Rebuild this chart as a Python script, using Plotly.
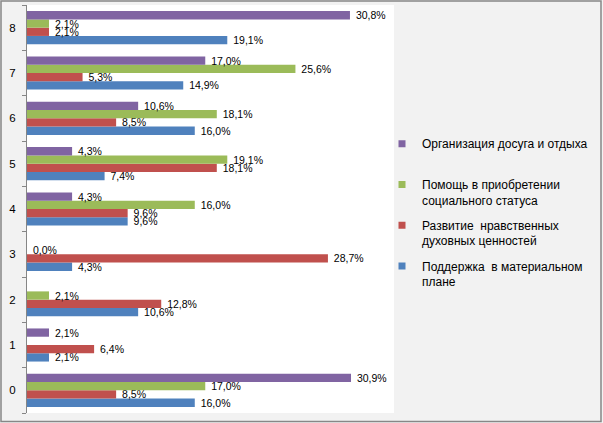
import plotly.graph_objects as go

# категории и значения (%)
categories = ["0", "1", "2", "3", "4", "5", "6", "7", "8"]
podderzhka = [16.0, 2.1, 10.6, 4.3, 9.6, 7.4, 16.0, 14.9, 19.1]
razvitie = [8.5, 6.4, 12.8, 28.7, 9.6, 18.1, 8.5, 5.3, 2.1]
pomosch = [17.0, None, 2.1, 0.0, 16.0, 19.1, 18.1, 25.6, 2.1]
dosug = [30.9, 2.1, None, None, 4.3, 4.3, 10.6, 17.0, 30.8]

names = [
    "Поддержка  в материальном<br>плане",
    "Развитие  нравственных<br>духовных ценностей",
    "Помощь в приобретении<br>социального статуса",
    "Организация досуга и отдыха<br> ",
]
colors = ["#4F81BD", "#C0504D", "#9BBB59", "#8064A2"]
series = [podderzhka, razvitie, pomosch, dosug]


def fmt(v):
    if v is None:
        return ""
    return "\u00a0" + f"{v:.1f}".replace(".", ",") + "%"


W, H = 603, 423
ml, mr, mt, mb = 27, 209, 5, 10
pw, ph = W - ml - mr, H - mt - mb

fig = go.Figure()
for vals, col in zip(series, colors):
    fig.add_trace(go.Bar(
        y=categories, x=vals, orientation="h",
        marker_color=col, marker_line_width=0,
        text=[fmt(v) for v in vals], textposition="outside",
        textfont=dict(size=10.5, color="#000000"),
        constraintext="none", cliponaxis=False,
        showlegend=False, hoverinfo="skip",
    ))

# легенда: сверху вниз фиолетовый, зелёный, красный, синий
for i in [3, 2, 1, 0]:
    fig.add_trace(go.Scatter(
        x=[None], y=[None], mode="markers", name=names[i],
        legendgroup=str(i),
        marker=dict(symbol="square", size=7, color=colors[i]),
    ))

fig.update_layout(
    width=W, height=H,
    margin=dict(l=ml, r=mr, t=mt, b=mb, autoexpand=False),
    barmode="group", bargap=0.27, bargroupgap=0,
    paper_bgcolor="#F2F2F2", plot_bgcolor="#FFFFFF",
    font=dict(family="Liberation Sans", size=11, color="#000000"),
    xaxis=dict(range=[0, 35], visible=False, showgrid=False,
               automargin=False),
    yaxis=dict(type="category", showgrid=False, zeroline=False,
               automargin=False,
               showline=True, linecolor="#868686", linewidth=1,
               ticks="outside", tickson="boundaries", ticklen=4,
               tickcolor="#868686", ticklabelstandoff=8,
               tickfont=dict(size=11.5, color="#000000")),
    legend=dict(x=(382 - ml) / pw, xanchor="left",
                y=1 - (129.5 - mt) / ph, yanchor="top",
                bgcolor="rgba(0,0,0,0)", traceorder="grouped",
                tracegroupgap=6.5, valign="top",
                font=dict(size=12, color="#000000")),
    shapes=[dict(type="rect", xref="paper", yref="paper",
                 x0=(-ml + 1) / pw, x1=1 + (mr - 2) / pw,
                 y0=(-mb + 1.5) / ph, y1=1 + (mt - 1) / ph,
                 line=dict(color="#878787", width=1.5))],
)

# убираем стандартный отступ страницы, чтобы график встал в окно целиком
fig.write_html("out.html", config={"displayModeBar": False},
               post_script="document.body.style.margin='0';")
